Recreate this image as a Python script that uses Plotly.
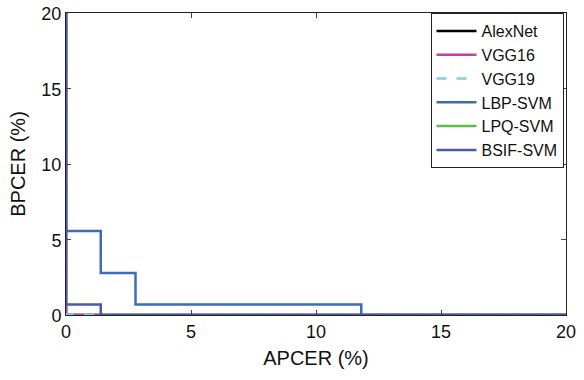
import plotly.graph_objects as go

series_names = ["AlexNet", "VGG16", "VGG19", "LBP-SVM", "LPQ-SVM", "BSIF-SVM"]

alexnet_x = [0, 0, 20]
alexnet_y = [20, 0, 0]
vgg16_x = [0, 0, 20]
vgg16_y = [20, 0, 0]
vgg19_x = [0, 0, 20]
vgg19_y = [20, 0, 0]
lbp_x = [0, 0, 1.39, 1.39, 2.78, 2.78, 11.81, 11.81, 20]
lbp_y = [20, 5.56, 5.56, 2.78, 2.78, 0.69, 0.69, 0, 0]
lpq_x = [0, 0, 20]
lpq_y = [20, 0, 0]
bsif_x = [0, 0, 1.39, 1.39, 20]
bsif_y = [20, 0.69, 0.69, 0, 0]

xs = [alexnet_x, vgg16_x, vgg19_x, lbp_x, lpq_x, bsif_x]
ys = [alexnet_y, vgg16_y, vgg19_y, lbp_y, lpq_y, bsif_y]
colors = ["#000000", "#c040a8", "#80d0dc", "#3e6cb8", "#5ec040", "#4a5aa8"]
dashes = ["solid", "solid", "10px,10px", "solid", "solid", "solid"]
draw_order = [0, 4, 1, 2, 3, 5]

fig = go.Figure()
for i in draw_order:
    fig.add_trace(go.Scatter(x=xs[i], y=ys[i], mode="lines", name=series_names[i],
                             legendrank=i + 1,
                             line=dict(color=colors[i], width=2.5, dash=dashes[i])))

font = "Liberation Sans, Arial, sans-serif"
fig.update_layout(
    width=584, height=380,
    margin=dict(l=66, r=18, t=13, b=65, autoexpand=False),
    plot_bgcolor="white", paper_bgcolor="white",
    font=dict(family=font, color="#111111"),
    showlegend=True,
    legend=dict(x=0.995, y=1.0, xanchor="right", yanchor="top",
                bgcolor="white", bordercolor="#222222", borderwidth=1,
                font=dict(size=16, family=font), tracegroupgap=0,
                itemwidth=40),
    xaxis=dict(range=[0, 20], tickvals=[0, 5, 10, 15, 20], automargin=False,
               ticks="inside", ticklen=5, tickcolor="#444",
               showline=True, linecolor="#222", linewidth=1, mirror="ticks",
               showgrid=False, zeroline=False, ticklabeloverflow="allow",
               tickfont=dict(size=18, family=font),
               title=dict(text="APCER (%)", font=dict(size=20, family=font), standoff=10)),
    yaxis=dict(range=[0, 20], tickvals=[0, 5, 10, 15, 20], automargin=False,
               ticks="inside", ticklen=5, tickcolor="#444",
               showline=True, linecolor="#222", linewidth=1, mirror="ticks",
               showgrid=False, zeroline=False, ticklabeloverflow="allow",
               ticklabelshift=1,
               tickfont=dict(size=18, family=font),
               title=dict(text="BPCER (%)", font=dict(size=20, family=font), standoff=10)),
)

# remove the browser's default 8px body margin so the 584x380 figure fills the window exactly
fig.write_html("out.html", config={"displayModeBar": False},
               post_script="document.body.style.margin='0';document.body.style.overflow='hidden';")
